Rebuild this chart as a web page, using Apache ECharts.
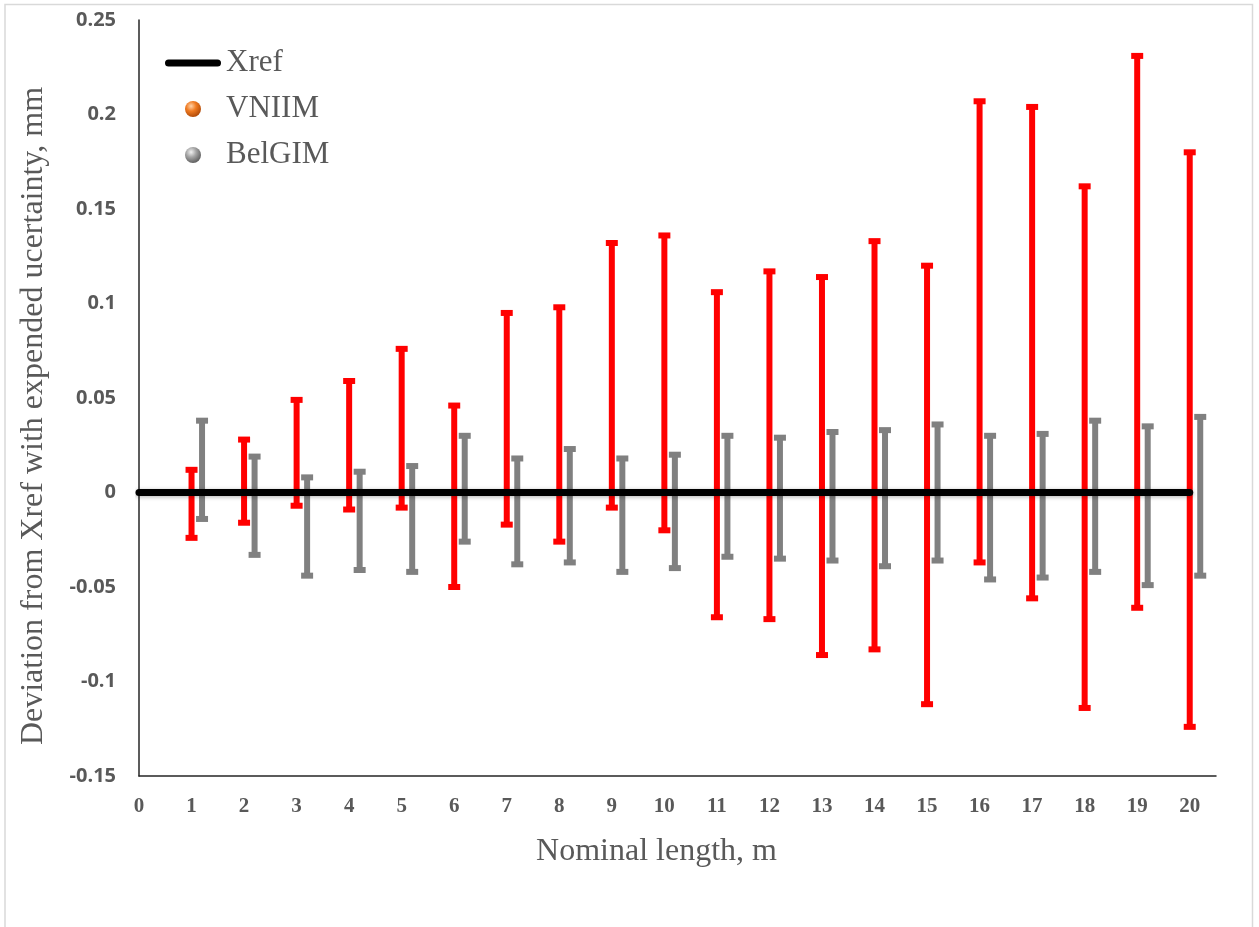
<!DOCTYPE html>
<html>
<head>
<meta charset="utf-8">
<script src="https://cdn.jsdelivr.net/npm/echarts@6/dist/echarts.min.js"></script>
<style>
html,body{margin:0;padding:0;background:#ffffff;}
#chart{width:1259px;height:927px;}
</style>
</head>
<body>
<div id="chart"></div>
<script>
// ---- data ----
const lengths = [1,2,3,4,5,6,7,8,9,10,11,12,13,14,15,16,17,18,19,20];
const vniimUpper = [0.012,0.028,0.049,0.059,0.076,0.046,0.095,0.098,0.132,0.136,0.106,0.117,0.114,0.133,0.120,0.207,0.204,0.162,0.231,0.180];
const vniimLower = [-0.024,-0.016,-0.007,-0.009,-0.008,-0.050,-0.017,-0.026,-0.008,-0.020,-0.066,-0.067,-0.086,-0.083,-0.112,-0.037,-0.056,-0.114,-0.061,-0.124];
const belgimUpper = [0.038,0.019,0.008,0.011,0.014,0.030,0.018,0.023,0.018,0.020,0.030,0.029,0.032,0.033,0.036,0.030,0.031,0.038,0.035,0.040];
const belgimLower = [-0.014,-0.033,-0.044,-0.041,-0.042,-0.026,-0.038,-0.037,-0.042,-0.040,-0.034,-0.035,-0.036,-0.039,-0.036,-0.046,-0.045,-0.042,-0.049,-0.044];
const belgimShift = 0.2;
const xrefX = [0, 20];
const xrefY = [0, 0];

const TEXT = '#595959';

function errorBar(color) {
  return function (params, api) {
    const x = api.value(0), lo = api.value(1), hi = api.value(2);
    const top = api.coord([x, hi]);
    const bot = api.coord([x, lo]);
    const stem = 6, capW = 12, capH = 6;
    return {
      type: 'group',
      children: [
        { type: 'rect', shape: { x: top[0] - stem / 2, y: top[1], width: stem, height: bot[1] - top[1] }, style: { fill: color } },
        { type: 'rect', shape: { x: top[0] - capW / 2, y: top[1] - capH / 2, width: capW, height: capH }, style: { fill: color } },
        { type: 'rect', shape: { x: bot[0] - capW / 2, y: bot[1] - capH / 2, width: capW, height: capH }, style: { fill: color } }
      ]
    };
  };
}

const orangeBall = { type: 'radial', x: 0.38, y: 0.32, r: 0.7, colorStops: [
  { offset: 0, color: '#ffd2a8' }, { offset: 0.45, color: '#f07b22' }, { offset: 1, color: '#b04a08' } ] };
const grayBall = { type: 'radial', x: 0.38, y: 0.32, r: 0.7, colorStops: [
  { offset: 0, color: '#f2f2f2' }, { offset: 0.45, color: '#a5a5a5' }, { offset: 1, color: '#5e5e5e' } ] };

const chart = echarts.init(document.getElementById('chart'), null, { renderer: 'canvas' });
chart.setOption({
  animation: false,
  backgroundColor: '#ffffff',
  graphic: [{
    type: 'rect', silent: true, z: -10,
    shape: { x: 5, y: 4.5, width: 1247.5, height: 1000 },
    style: { fill: 'none', stroke: '#d9d9d9', lineWidth: 1.5 }
  }],
  grid: { left: 139, right: 43, top: 20, bottom: 151, containLabel: false },
  legend: {
    orient: 'vertical', left: 160, top: 42,
    itemWidth: 56, itemHeight: 16, itemGap: 14,
    selectedMode: false,
    textStyle: { fontFamily: 'Liberation Serif', fontSize: 31, color: TEXT, lineHeight: 32 },
    data: [
      { name: 'Xref', icon: 'path://M3.5,0 L52.5,0 A3.5,3.5 0 0 1 52.5,7 L3.5,7 A3.5,3.5 0 0 1 3.5,0 Z', itemStyle: { color: '#000000', borderWidth: 0 } },
      { name: 'VNIIM', icon: 'circle', itemStyle: { color: orangeBall, borderWidth: 0 } },
      { name: 'BelGIM', icon: 'circle', itemStyle: { color: grayBall, borderWidth: 0 } }
    ]
  },
  xAxis: {
    type: 'value', min: 0, max: 20.5, interval: 1,
    name: 'Nominal length, m', nameLocation: 'middle', nameGap: 60,
    nameTextStyle: { fontFamily: 'Liberation Serif', fontSize: 32, color: TEXT, padding: [0, 42, 0, 0] },
    axisLine: { show: true, onZero: false, lineStyle: { color: '#262626', width: 1.5 } },
    axisTick: { show: false },
    splitLine: { show: false },
    axisLabel: { showMaxLabel: false, margin: 20, fontFamily: 'Liberation Serif', fontWeight: 'bold', fontSize: 21, color: TEXT }
  },
  yAxis: {
    type: 'value', min: -0.15, max: 0.25, interval: 0.05,
    name: 'Deviation from Xref with expended ucertainty, mm', nameLocation: 'middle', nameGap: 89,
    nameTextStyle: { fontFamily: 'Liberation Serif', fontSize: 32, color: TEXT, padding: [0, 36, 0, 0] },
    axisLine: { show: true, lineStyle: { color: '#262626', width: 1.5 } },
    axisTick: { show: false },
    splitLine: { show: false },
    axisLabel: { margin: 23, fontFamily: 'Open Sans', fontWeight: 'bold', fontSize: 20, color: TEXT }
  },
  series: [
    {
      type: 'custom', name: 'VNIIM', z: 2,
      itemStyle: { color: '#ff0000' },
      renderItem: errorBar('#ff0000'),
      encode: { x: 0, y: [1, 2] },
      data: lengths.map((x, i) => [x, vniimLower[i], vniimUpper[i]])
    },
    {
      type: 'custom', name: 'BelGIM', z: 2,
      itemStyle: { color: '#808080' },
      renderItem: errorBar('#808080'),
      encode: { x: 0, y: [1, 2] },
      data: lengths.map((x, i) => [x + belgimShift, belgimLower[i], belgimUpper[i]])
    },
    {
      type: 'line', name: 'Xref', z: 5,
      symbol: 'none',
      data: xrefX.map((x, i) => [x, xrefY[i]]),
      lineStyle: { color: '#000000', width: 7, cap: 'round', shadowBlur: 4, shadowColor: 'rgba(0,0,0,0.3)', shadowOffsetY: 1 }
    }
  ]
});
</script>
</body>
</html>
